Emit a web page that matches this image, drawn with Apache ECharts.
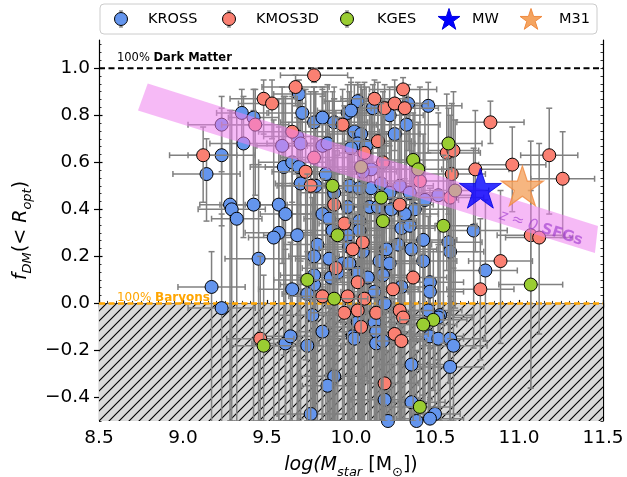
<!DOCTYPE html>
<html><head><meta charset="utf-8">
<script src="https://cdn.jsdelivr.net/npm/echarts@6/dist/echarts.min.js"></script>
<style>html,body{margin:0;padding:0;background:#fff}#c{width:627px;height:477px}</style>
</head><body><div id="c"></div>
<script>
const seriesNames = ['KROSS', 'KMOS3D', 'KGES', 'MW', 'M31'];
const xTicks = [8.5, 9.0, 9.5, 10.0, 10.5, 11.0, 11.5];
const yTicks = [-0.4, -0.2, 0.0, 0.2, 0.4, 0.6, 0.8, 1.0];
// each row: [log Mstar, fDM, xerr, yerr below, yerr above]
const krossData = [
 [9.35,0.81,0.15,0.12,0.1],[9.42,0.79,0.15,0.2,0.12],[9.23,0.63,0.2,0.3,0.2],[9.14,0.55,0.2,0.2,0.15],
 [9.28,0.42,0.18,0.92,0.4],[9.29,0.40,0.2,0.9,0.42],[9.32,0.36,0.15,0.86,0.45],[9.42,0.42,0.2,0.92,0.4],
 [9.57,0.42,0.2,0.92,0.45],[9.61,0.38,0.15,0.88,0.5],[9.68,0.29,0.2,0.79,0.5],[9.57,0.30,0.2,0.8,0.45],
 [9.54,0.28,0.15,0.78,0.5],[9.45,0.19,0.2,0.69,0.4],[9.69,0.89,0.15,0.1,0.06],[9.71,0.81,0.2,0.2,0.1],
 [9.78,0.77,0.2,0.3,0.15],[9.83,0.79,0.15,0.25,0.12],[9.90,0.77,0.2,0.35,0.15],[9.98,0.81,0.2,0.3,0.12],
 [9.68,0.71,0.2,0.4,0.2],[9.83,0.67,0.2,0.6,0.25],[9.86,0.68,0.15,0.7,0.25],[9.60,0.58,0.2,0.8,0.3],
 [9.70,0.51,0.15,1.0,0.4],[9.79,0.50,0.2,1.0,0.4],[9.90,0.47,0.2,0.97,0.4],[9.98,0.41,0.15,0.91,0.45],
 [9.83,0.38,0.2,0.88,0.5],[9.87,0.36,0.15,0.86,0.5],[9.89,0.31,0.2,0.81,0.5],[9.80,0.25,0.2,0.75,0.5],
 [9.78,0.20,0.15,0.7,0.5],[9.87,0.19,0.2,0.69,0.5],[9.23,0.76,0.2,0.2,0.12],[9.36,0.68,0.2,0.4,0.2],
 [9.59,0.67,0.15,0.5,0.25],[9.70,0.68,0.2,0.5,0.2],[9.65,0.60,0.2,0.8,0.3],[9.69,0.58,0.2,1.08,0.3],
 [9.85,0.55,0.2,1.05,0.35],[9.99,0.50,0.15,1.0,0.4],[10.04,0.86,0.2,0.2,0.08],[10.13,0.83,0.15,0.25,0.1],
 [10.23,0.80,0.2,0.3,0.12],[10.34,0.85,0.15,0.2,0.08],[10.46,0.84,0.2,0.2,0.1],[10.00,0.82,0.2,0.3,0.12],
 [10.02,0.73,0.15,0.6,0.2],[10.06,0.72,0.2,0.7,0.2],[10.33,0.76,0.2,0.5,0.15],[10.26,0.72,0.15,0.6,0.2],
 [10.04,0.68,0.2,1.18,0.25],[10.00,0.66,0.2,1.16,0.3],[10.09,0.67,0.15,1.0,0.25],[10.12,0.57,0.2,1.07,0.3],
 [10.07,0.56,0.2,1.06,0.35],[10.05,0.49,0.2,0.99,0.4],[10.12,0.49,0.15,0.99,0.4],[10.18,0.51,0.2,1.01,0.35],
 [10.29,0.50,0.2,1.0,0.35],[10.35,0.47,0.15,0.97,0.4],[10.44,0.44,0.2,0.94,0.4],[10.38,0.40,0.2,0.9,0.45],
 [10.23,0.47,0.2,0.97,0.4],[10.52,0.46,0.2,0.7,0.35],[10.73,0.31,0.2,0.5,0.35],[10.11,0.41,0.2,0.91,0.45],
 [10.16,0.41,0.15,0.91,0.45],[10.32,0.38,0.2,0.88,0.45],[10.30,0.32,0.2,0.82,0.5],[10.35,0.33,0.15,0.83,0.45],
 [10.43,0.27,0.2,0.77,0.45],[10.58,0.26,0.2,0.6,0.4],[10.05,0.35,0.2,0.85,0.5],[10.05,0.31,0.15,0.81,0.5],
 [10.21,0.23,0.2,0.73,0.5],[10.28,0.25,0.2,0.75,0.45],[10.36,0.23,0.15,0.73,0.45],[10.24,0.40,0.2,0.9,0.4],
 [10.59,0.22,0.2,0.5,0.4],[9.98,0.29,0.2,0.79,0.5],[10.07,0.22,0.15,0.72,0.5],[9.99,0.24,0.2,0.74,0.5],
 [9.95,0.17,0.2,0.67,0.5],[9.99,0.17,0.15,0.67,0.5],[10.17,0.18,0.2,0.68,0.5],[10.23,0.17,0.2,0.67,0.5],
 [10.43,0.18,0.2,0.6,0.4],[9.88,0.11,0.2,0.61,0.5],[9.92,0.13,0.15,0.63,0.5],[9.78,0.08,0.2,0.58,0.45],
 [10.04,0.13,0.2,0.63,0.5],[10.10,0.11,0.15,0.61,0.5],[10.19,0.12,0.2,0.62,0.45],[10.47,0.09,0.2,0.5,0.4],
 [9.65,0.06,0.2,0.56,0.45],[9.74,0.04,0.15,0.54,0.45],[10.14,0.05,0.2,0.55,0.5],[10.30,0.07,0.2,0.57,0.45],
 [10.47,0.05,0.2,0.45,0.4],[9.77,-0.05,0.2,0.45,0.5],[10.20,0.00,0.15,0.5,0.5],[10.46,-0.03,0.2,0.45,0.4],
 [10.53,-0.05,0.2,0.45,0.4],[9.83,-0.12,0.2,0.38,0.5],[10.04,-0.08,0.15,0.42,0.5],[10.14,-0.08,0.2,0.42,0.5],
 [10.15,-0.12,0.2,0.38,0.5],[10.01,-0.14,0.2,0.36,0.5],[10.02,-0.15,0.15,0.35,0.5],[10.15,-0.17,0.2,0.33,0.45],
 [10.19,-0.16,0.2,0.34,0.5],[10.47,-0.14,0.2,0.36,0.4],[10.52,-0.15,0.15,0.35,0.4],[10.59,-0.15,0.2,0.35,0.4],
 [10.61,-0.18,0.2,0.32,0.4],[9.61,-0.17,0.2,0.33,0.4],[9.64,-0.14,0.15,0.36,0.4],[9.74,-0.18,0.2,0.32,0.4],
 [10.36,-0.26,0.2,0.3,0.4],[10.59,-0.27,0.2,0.25,0.3],[9.90,-0.31,0.2,0.25,0.4],[9.86,-0.35,0.15,0.2,0.3],
 [10.20,-0.41,0.2,0.15,0.3],[10.36,-0.42,0.2,0.15,0.3],[10.50,-0.47,0.15,0.1,0.3],[10.47,-0.49,0.2,0.1,0.3],
 [9.76,-0.47,0.2,0.1,0.3],[10.22,-0.50,0.2,0.1,0.3],[9.17,0.07,0.2,0.6,0.15],[9.23,-0.02,0.2,0.5,0.4],
 [9.78,0.12,0.2,0.62,0.5],[10.80,0.14,0.19,0.3,0.3],[10.52,-0.06,0.2,0.44,0.4],[10.39,-0.50,0.2,0.1,0.3]
];
const kmos3dData = [
 [9.78,0.97,0.2,0.03,0.03],[9.67,0.92,0.2,0.08,0.05],[9.48,0.87,0.2,0.15,0.08],[9.53,0.85,0.2,0.15,0.1],
 [9.43,0.76,0.2,0.3,0.15],[9.65,0.73,0.2,0.3,0.15],[9.12,0.63,0.2,0.2,0.12],[9.78,0.62,0.2,0.7,0.3],
 [9.73,0.56,0.2,0.8,0.35],[9.76,0.50,0.2,1.0,0.4],[9.90,0.42,0.2,0.92,0.45],[9.96,0.34,0.15,0.84,0.5],
 [10.31,0.91,0.2,0.1,0.05],[10.14,0.87,0.2,0.2,0.08],[10.20,0.83,0.15,0.25,0.1],[10.26,0.85,0.2,0.2,0.1],
 [10.32,0.83,0.2,0.3,0.1],[9.95,0.76,0.2,0.4,0.15],[10.16,0.69,0.2,0.7,0.25],[10.08,0.64,0.15,0.9,0.3],
 [10.19,0.60,0.2,1.1,0.3],[10.57,0.64,0.2,0.5,0.25],[10.61,0.65,0.15,0.5,0.25],[10.60,0.55,0.2,0.6,0.3],
 [10.41,0.52,0.2,0.8,0.4],[10.83,0.77,0.2,0.09,0.09],[10.96,0.59,0.2,0.2,0.16],[11.18,0.63,0.17,0.25,0.2],
 [11.26,0.53,0.19,0.25,0.2],[10.74,0.57,0.2,0.35,0.25],[10.29,0.42,0.2,0.92,0.4],[10.59,0.45,0.2,0.6,0.35],
 [11.07,0.29,0.2,0.65,0.4],[11.12,0.28,0.2,0.41,0.4],[10.89,0.18,0.19,0.35,0.3],[10.07,0.26,0.2,0.76,0.5],
 [10.01,0.23,0.2,0.73,0.5],[9.91,0.15,0.2,0.65,0.5],[10.04,0.09,0.15,0.59,0.5],[10.37,0.11,0.2,0.61,0.45],
 [9.83,0.03,0.2,0.53,0.5],[9.98,0.03,0.2,0.53,0.5],[10.25,0.06,0.15,0.56,0.45],[10.08,0.02,0.2,0.52,0.5],
 [9.96,-0.04,0.2,0.46,0.5],[10.04,-0.03,0.15,0.47,0.5],[10.15,-0.04,0.2,0.46,0.5],[10.29,-0.03,0.2,0.47,0.4],
 [10.31,-0.06,0.2,0.44,0.4],[10.06,-0.10,0.2,0.4,0.5],[10.26,-0.13,0.2,0.37,0.4],[10.30,-0.16,0.15,0.34,0.4],
 [9.46,-0.15,0.2,0.35,0.35],[10.20,-0.34,0.2,0.16,0.3],[10.77,0.06,0.2,0.3,0.3]
];
const kgesData = [
 [10.58,0.68,0.2,0.3,0.15],[10.37,0.61,0.2,0.4,0.2],[10.40,0.57,0.2,0.4,0.2],[9.89,0.50,0.2,1.0,0.4],
 [10.06,0.58,0.2,1.08,0.35],[9.92,0.29,0.2,0.79,0.5],[10.62,0.48,0.2,0.5,0.3],[10.19,0.35,0.2,0.85,0.45],
 [10.18,0.45,0.2,0.95,0.4],[10.55,0.33,0.2,0.5,0.3],[9.74,0.10,0.2,0.6,0.45],[9.90,0.02,0.2,0.52,0.5],
 [10.49,-0.07,0.2,0.3,0.3],[10.43,-0.09,0.2,0.3,0.3],[9.48,-0.18,0.2,0.32,0.3],[10.41,-0.44,0.2,0.1,0.3],
 [11.07,0.08,0.19,0.44,0.4]
];
const mwPoint = [10.77, 0.49];
const m31Point = [11.02, 0.50];
const bandCorners = [[8.79,0.935],[11.47,0.329],[11.452,0.214],[8.732,0.82]];
const bandLabelPos = [11.13, 0.32];
const dmLevel = 1.0;
const baryonLevel = 0.0;

const X_MIN = 8.5, X_MAX = 11.5, Y_MIN = -0.5, Y_MAX = 1.12;
const FONT = 'DejaVu Sans';
const STAR = 'path://M0,-10 L2.245,-3.09 L9.511,-3.09 L3.633,1.18 L5.878,8.09 L0,3.82 L-5.878,8.09 L-3.633,1.18 L-9.511,-3.09 L-2.245,-3.09 Z';

// hatch pattern
const hc = document.createElement('canvas');
const S = 10; hc.width = S; hc.height = S;
const hx = hc.getContext('2d');
hx.fillStyle = '#d9d9d9'; hx.fillRect(0, 0, S, S);
hx.strokeStyle = '#000000'; hx.lineWidth = 1.15;
hx.beginPath();
hx.moveTo(0, S); hx.lineTo(S, 0);
hx.moveTo(-2, 2); hx.lineTo(2, -2);
hx.moveTo(S - 2, S + 2); hx.lineTo(S + 2, S - 2);
hx.stroke();

const minorY = [];
for (let k = -15; k <= 33; k++) { if (k % 6 !== 0) minorY.push(k / 30); }
const allY = minorY.concat(yTicks);

function errRender(params, api) {
  const x = api.value(0), y = api.value(1), xe = api.value(2), yd = api.value(3), yu = api.value(4);
  const c = api.coord([x, y]);
  const l = api.coord([x - xe, y]), r = api.coord([x + xe, y]);
  const t = api.coord([x, y + yu]), b = api.coord([x, y - yd]);
  const cap = 3;
  const st = { stroke: '#808080', lineWidth: 1.5 };
  const ln = (x1, y1, x2, y2) => ({ type: 'line', shape: { x1, y1, x2, y2 }, style: st });
  return { type: 'group', children: [
    ln(l[0], c[1], r[0], c[1]),
    ln(c[0], t[1], c[0], b[1]),
    ln(l[0], c[1] - cap, l[0], c[1] + cap),
    ln(r[0], c[1] - cap, r[0], c[1] + cap),
    ln(c[0] - cap, t[1], c[0] + cap, t[1]),
    ln(c[0] - cap, b[1], c[0] + cap, b[1])
  ]};
}

function errSeries(data, z) {
  return { type: 'custom', data: data, renderItem: errRender, clip: true, z: z, silent: true,
    encode: { x: 0, y: 1 } };
}
function markerSeries(name, data, color, z) {
  return { name: name, type: 'scatter', data: data.map(d => [d[0], d[1]]), symbol: 'circle', symbolSize: 13,
    itemStyle: { color: color, borderColor: '#000', borderWidth: 1, opacity: 1 }, z: z, silent: true };
}

const richX = {
  it: { fontFamily: FONT, fontSize: 19, fontStyle: 'italic', color: '#000', lineHeight: 27 },
  n: { fontFamily: FONT, fontSize: 19, color: '#000', lineHeight: 27 },
  sub: { fontFamily: FONT, fontSize: 13, fontStyle: 'italic', color: '#000', lineHeight: 13, verticalAlign: 'bottom' },
  subn: { fontFamily: FONT, fontSize: 13, color: '#000', lineHeight: 13, verticalAlign: 'bottom' }
};

function starPts(cx, cy, R) {
  const pts = [];
  for (let i = 0; i < 10; i++) {
    const a = -Math.PI / 2 + i * Math.PI / 5;
    const rr = i % 2 === 0 ? R : R * 0.382;
    pts.push([cx + rr * Math.cos(a), cy + rr * Math.sin(a)]);
  }
  return pts;
}
const legendGraphics = [
  { type: 'rect', shape: { x: 100, y: 4, width: 497, height: 30, r: 4 }, style: { fill: 'rgba(255,255,255,0.8)', stroke: '#cccccc', lineWidth: 1 }, z: 100 }
];
const legCircles = [[121, '#6495ED'], [229, '#FA8072'], [347, '#9ACD32']];
legCircles.forEach(([cx, col]) => {
  legendGraphics.push({ type: 'line', shape: { x1: cx, y1: 11, x2: cx, y2: 27 }, style: { stroke: '#808080', lineWidth: 1.5 }, z: 101 });
  legendGraphics.push({ type: 'line', shape: { x1: cx - 2, y1: 11, x2: cx + 2, y2: 11 }, style: { stroke: '#808080', lineWidth: 1.2 }, z: 101 });
  legendGraphics.push({ type: 'line', shape: { x1: cx - 2, y1: 27, x2: cx + 2, y2: 27 }, style: { stroke: '#808080', lineWidth: 1.2 }, z: 101 });
  legendGraphics.push({ type: 'circle', shape: { cx: cx, cy: 19, r: 6.5 }, style: { fill: col, stroke: '#000', lineWidth: 1 }, z: 102 });
});
legendGraphics.push({ type: 'polygon', shape: { points: starPts(449, 20, 11.5) }, style: { fill: '#0000FF', stroke: '#0000dd', lineWidth: 1 }, z: 102 });
legendGraphics.push({ type: 'polygon', shape: { points: starPts(531, 20, 11.5) }, style: { fill: '#F4A460', stroke: '#F08A40', lineWidth: 1 }, z: 102 });
const legTextX = [148, 256, 377, 472, 559];
seriesNames.forEach((n, i) => {
  legendGraphics.push({ type: 'text', x: legTextX[i], y: 19, style: { text: n, fontFamily: FONT, fontSize: 14.5, fill: '#000', verticalAlign: 'middle', align: 'left' }, z: 102 });
});

const chart = echarts.init(document.getElementById('c'), null, { renderer: 'canvas' });
const axisLineStyle = { color: '#000', width: 1.2 };
const option = {
  animation: false,
  backgroundColor: '#fff',
  grid: { left: 99, right: 24, top: 40, bottom: 56, containLabel: false, outerBoundsMode: 'none' },
  xAxis: [
    { type: 'value', min: X_MIN, max: X_MAX, interval: 0.5, position: 'bottom',
      axisLine: { show: true, lineStyle: axisLineStyle },
      axisTick: { show: true, length: 5, inside: false, lineStyle: { color: '#000', width: 1.2 } },
      axisLabel: { fontFamily: FONT, fontSize: 18.5, color: '#000', margin: 8, formatter: v => v.toFixed(1) },
      splitLine: { show: false },
      name: '{it|log(M}{sub|star}{n| [M}{subn|⊙}{n|])}', nameLocation: 'middle', nameGap: 31,
      nameTextStyle: { rich: richX } },
    { type: 'value', min: X_MIN, max: X_MAX, interval: 0.5, position: 'bottom',
      axisLine: { show: false }, axisLabel: { show: false }, splitLine: { show: false },
      axisTick: { show: true, inside: true, length: 3.5, lineStyle: { color: '#000', width: 1.2 } },
      minorTick: { show: true, splitNumber: 10, length: 2.5, lineStyle: { color: '#000', width: 0.8 } } },
    { type: 'value', min: X_MIN, max: X_MAX, interval: 0.5, position: 'top',
      axisLine: { show: true, lineStyle: axisLineStyle }, axisLabel: { show: false }, splitLine: { show: false },
      axisTick: { show: true, inside: true, length: 3.5, lineStyle: { color: '#000', width: 1.2 } },
      minorTick: { show: true, splitNumber: 10, length: 2.5, lineStyle: { color: '#000', width: 0.8 } } }
  ],
  yAxis: [
    { type: 'value', min: Y_MIN, max: Y_MAX, position: 'left',
      axisLine: { show: true, lineStyle: axisLineStyle },
      axisTick: { show: true, length: 5, inside: false, customValues: yTicks, lineStyle: { color: '#000', width: 1.2 } },
      axisLabel: { fontFamily: FONT, fontSize: 18.5, color: '#000', margin: 9, customValues: yTicks,
        formatter: v => (Math.abs(v) < 1e-9 ? '0.0' : v.toFixed(1).replace('-', '\u2212')) },
      splitLine: { show: false },
      name: '{it|f}{sub|DM}{n|(< }{it|R}{sub|opt}{n|)}', nameLocation: 'middle', nameGap: 57, nameRotate: 90,
      nameTextStyle: { rich: richX } },
    { type: 'value', min: Y_MIN, max: Y_MAX, position: 'left',
      axisLine: { show: false }, axisLabel: { show: false }, splitLine: { show: false },
      axisTick: { show: true, inside: true, length: 3.5, customValues: yTicks, lineStyle: { color: '#000', width: 1.2 } } },
    { type: 'value', min: Y_MIN, max: Y_MAX, position: 'left',
      axisLine: { show: false }, axisLabel: { show: false }, splitLine: { show: false },
      axisTick: { show: true, inside: true, length: 2.5, customValues: minorY, lineStyle: { color: '#000', width: 0.8 } } },
    { type: 'value', min: Y_MIN, max: Y_MAX, position: 'right',
      axisLine: { show: true, lineStyle: axisLineStyle }, axisLabel: { show: false }, splitLine: { show: false },
      axisTick: { show: true, inside: true, length: 2.5, customValues: allY, lineStyle: { color: '#000', width: 0.8 } } }
  ],
  graphic: legendGraphics,
  series: [
    { type: 'custom', data: [[X_MIN, baryonLevel]], z: 1, silent: true, clip: true,
      renderItem: function (params, api) {
        const p0 = api.coord([X_MIN, baryonLevel]);
        const p1 = api.coord([X_MAX, Y_MIN]);
        return { type: 'rect', shape: { x: p0[0], y: p0[1], width: p1[0] - p0[0], height: p1[1] - p0[1] },
          style: { fill: { image: hc, repeat: 'repeat' } } };
      } },
    errSeries(krossData, 2),
    { type: 'custom', data: [[X_MIN, dmLevel]], z: 2.5, silent: true,
      renderItem: function (params, api) {
        const a = api.coord([X_MIN, dmLevel]), b = api.coord([X_MAX, dmLevel]);
        const c = api.coord([X_MIN, baryonLevel]), d = api.coord([X_MAX, baryonLevel]);
        const tdm = api.coord([8.607, 1.043]), tb = api.coord([8.607, 0.025]);
        return { type: 'group', children: [
          { type: 'line', shape: { x1: a[0], y1: a[1], x2: b[0], y2: b[1] }, style: { stroke: '#000', lineWidth: 2, lineDash: [6, 3.5] } },
          { type: 'line', shape: { x1: c[0], y1: c[1], x2: d[0], y2: d[1] }, style: { stroke: '#FFA500', lineWidth: 2.5, lineDash: [6, 3.5] } },
          { type: 'text', x: tdm[0], y: tdm[1], style: { text: '{n|100% }{b|Dark Matter}', verticalAlign: 'middle', align: 'left',
            rich: { n: { fontFamily: FONT, fontSize: 11.5, fill: '#000' }, b: { fontFamily: FONT, fontSize: 11.5, fontWeight: 'bold', fill: '#000' } } } },
          { type: 'text', x: tb[0], y: tb[1], style: { text: '{n|100% }{b|Baryons}', verticalAlign: 'middle', align: 'left',
            rich: { n: { fontFamily: FONT, fontSize: 12, fill: '#FFA500' }, b: { fontFamily: FONT, fontSize: 12, fontWeight: 'bold', fill: '#FFA500' } } } }
        ]};
      } },
    markerSeries(seriesNames[0], krossData, '#6495ED', 3),
    errSeries(kmos3dData, 4),
    markerSeries(seriesNames[1], kmos3dData, '#FA8072', 5),
    errSeries(kgesData, 6),
    markerSeries(seriesNames[2], kgesData, '#9ACD32', 7),
    { type: 'custom', data: [bandLabelPos], z: 8, silent: true, clip: true,
      renderItem: function (params, api) {
        const pts = bandCorners.map(p => api.coord(p));
        const lp = api.coord([api.value(0), api.value(1)]);
        const ang = Math.atan2(pts[1][1] - pts[0][1], pts[1][0] - pts[0][0]);
        return { type: 'group', children: [
          { type: 'polygon', shape: { points: pts }, style: { fill: 'rgba(238,130,238,0.55)' } },
          { type: 'text', x: lp[0], y: lp[1], rotation: -ang, style: { text: '{i|z ≈ 0 }{b|SFGs}', align: 'center', verticalAlign: 'middle',
            rich: { i: { fontFamily: FONT, fontSize: 15, fontStyle: 'italic', fill: 'rgba(153,50,204,0.6)' },
                    b: { fontFamily: FONT, fontSize: 15, fontWeight: 'bold', fill: 'rgba(153,50,204,0.6)' } } } }
        ]};
      } },
    { name: seriesNames[3], type: 'scatter', data: [mwPoint], symbol: STAR, symbolSize: 42, symbolKeepAspect: true,
      itemStyle: { color: '#0000FF', borderColor: '#0000dd', borderWidth: 1 }, z: 9, silent: true },
    { name: seriesNames[4], type: 'scatter', data: [m31Point], symbol: STAR, symbolSize: 42, symbolKeepAspect: true,
      itemStyle: { color: '#F4A460', borderColor: '#F08A40', borderWidth: 1.2 }, z: 9, silent: true }
  ]
};
chart.setOption(option);
</script></body></html>
